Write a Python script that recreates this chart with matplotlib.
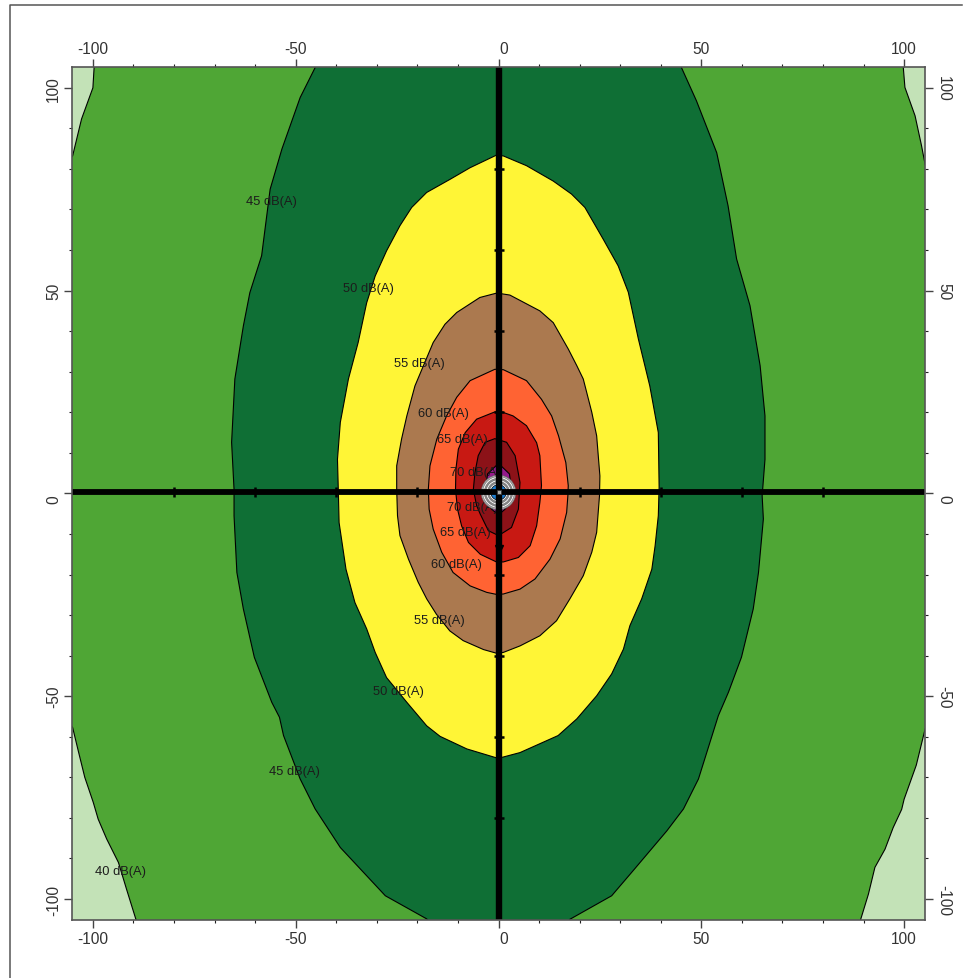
import matplotlib
matplotlib.use("Agg")
import matplotlib.pyplot as plt
from matplotlib.lines import Line2D
from matplotlib.patches import Circle
from matplotlib.transforms import ScaledTranslation

plt.rcParams['font.family'] = ['Liberation Sans', 'DejaVu Sans']
plt.rcParams['axes.unicode_minus'] = False

# contour lines, metres
corner_tl = [(-110, 110), (-99.7, 110), (-99.7, 105), (-100, 100), (-102.8, 92.3), (-103.6, 89), (-105, 83.2), (-110, 78)]
corner_tr = [(110, 110), (99.8, 110), (99.8, 105), (100.2, 100.1), (102.7, 93.1), (104.3, 85.7), (105.2, 81), (110, 75)]
corner_bl = [(-110, -50), (-105, -57.7), (-103.6, -63.5), (-102, -70), (-99.9, -76.2), (-98.7, -80.3), (-96.6, -85.2),
             (-93.7, -91), (-91.7, -97.6), (-89.4, -105), (-88, -110), (-110, -110)]
corner_br = [(110, -50), (105.2, -58), (103, -67), (100, -75.4), (99.4, -77.9), (97.3, -82.4), (95.3, -87.7), (92.8, -92.2),
             (91.2, -98.8), (89.3, -105), (88, -110), (110, -110)]

level_45 = [(-44, 110), (-45.2, 105), (-48.9, 97.6), (-53.4, 84.9), (-56.3, 75), (-58.4, 58.6), (-61.3, 49.5), (-62.9, 41.3),
            (-65, 28.2), (-65.8, 12.6), (-65.2, 1), (-65.2, -5.5), (-64.5, -19.5), (-62.9, -28.5), (-60.2, -40.4),
            (-55.9, -51.5), (-54, -55.2), (-53, -59.7), (-48.9, -70.4), (-45.2, -77.8), (-39, -87.3), (-27.9, -99.2),
            (-17.7, -104.9), (-14, -110), (14, -110), (17.6, -105), (27.9, -99.2), (33.2, -93), (41.5, -83.2), (45.6, -77.8),
            (49.3, -70.4), (52.5, -60.2), (54.2, -54.8), (56.7, -49), (59.9, -40.4), (62.8, -28.5), (64.1, -19.5),
            (65.3, -6.3), (65, -0.6), (65.7, 8.4), (65.7, 19.1), (64.5, 31.5), (62, 46.3), (58.7, 57.8), (56.6, 70.9),
            (53.8, 84), (48.8, 96.8), (45.1, 105), (44, 110)]
level_50 = [(-0.5, 83.4), (-7, 80.3), (-12, 77.4), (-17.7, 74.2), (-21.4, 70.5), (-24.3, 66), (-27.6, 59.8), (-30.4, 53.6),
            (-32.5, 47), (-34.6, 37.2), (-37, 28.2), (-39, 17.5), (-39.7, 8.4), (-39.5, 1), (-39.3, -7.2), (-37.6, -18.7),
            (-35.4, -26.9), (-32.5, -33.4), (-30.4, -39.2), (-27.6, -45.4), (-22.6, -51.5), (-17.7, -57.3), (-14.4, -59.9),
            (-7.8, -63), (-0.5, -65.2), (0.4, -65.2), (5.3, -63.9), (14.7, -59.7), (19.3, -55.6), (24.2, -49.9), (27.9, -44.5),
            (30.8, -38.4), (32.4, -32.6), (35.3, -26), (37.8, -18.7), (38.6, -13), (39.4, -5.5), (39.6, 1.5), (39.4, 15),
            (37.3, 26.5), (34.5, 38), (32, 49.6), (29.5, 56.1), (25.8, 62.7), (21.3, 70.5), (18, 73.8), (13.5, 77),
            (6.9, 80.8), (1.2, 83.2)]
level_55 = [(-0.4, 49.4), (-4.6, 48.3), (-10.3, 44.6), (-13.2, 41.7), (-16.1, 37.2), (-18.5, 31.5), (-20.6, 26.5), (-22.6, 19.1),
            (-23.9, 13.4), (-25.1, 6.8), (-25.1, 1), (-24.9, -5.5), (-24.3, -10.4), (-22.2, -16.2), (-19.8, -21.9), (-17.7, -26),
            (-15.3, -29.8), (-12, -33.9), (-8.7, -36.3), (-3.7, -38.5), (-0.5, -39.4), (1.2, -39.2), (5.3, -37.6), (10.2, -35.1),
            (14.3, -31.4), (17.6, -26), (20.9, -20.3), (23, -14.5), (24.2, -9.6), (24.9, -0.6), (25, 4.3), (24.2, 14.2), (23, 20),
            (20.9, 28.2), (19.3, 31.5), (17.2, 35.6), (13.5, 42.1), (10.2, 45), (2.8, 48.9)]
level_60 = [(-0.9, 30.6), (-7, 27.8), (-10.3, 23.7), (-12.8, 19.1), (-15.2, 13.4), (-16.9, 6.8), (-17.3, 1), (-17.1, -3.9),
            (-16.1, -8.8), (-14, -14.5), (-11.2, -19.5), (-7, -22.8), (-2.9, -24.4), (-0.5, -24.9), (1.2, -24.8), (5.3, -23.6),
            (9, -21.1), (12.7, -16.2), (15.2, -11.2), (16.8, -4.7), (17.1, -0.6), (17.2, 1.9), (16.6, 7.6), (14.8, 14.2),
            (13.1, 19.1), (10.6, 23.2), (6.9, 27.8), (1.2, 30.5)]
level_65 = [(-0.9, 20.1), (-5.4, 18.3), (-8.2, 15), (-9.9, 10.9), (-10.5, 6), (-10.6, 1), (-10.1, -3.9), (-9.1, -8), (-7.4, -12.1),
            (-4.5, -15), (-0.5, -16.9), (1.2, -16.9), (4.9, -15.8), (7.8, -12.9), (9.4, -8), (10.2, -2.2), (10.6, 1.9), (10.2, 9.3),
            (9.4, 12.5), (6.9, 16.7), (3.6, 19.1), (0.8, 20.1)]
level_70 = [(-0.9, 13.5), (-3.3, 12.6), (-5, 9.3), (-5.8, 5.2), (-6.2, 1), (-5.4, -3), (-4.5, -5.1), (-2.5, -9.2), (0, -10.4),
            (3.2, -8.4), (4.9, -3.9), (5.3, 2.7), (4.1, 9.3), (2, 12.6)]
level_75 = [(0, 7.4), (-2.7, 4.8), (-3.2, 1), (-2.8, -2), (-1.7, -3.9), (0, -5.3), (1.6, -3.9), (2.8, -2), (3.2, 1), (2.7, 4.8)]

contours = [level_45, level_50, level_55, level_60, level_65, level_70, level_75]
corners = [corner_tl, corner_tr, corner_bl, corner_br]
level_colors = ['#0f6f35', '#fff536', '#ab794f', '#ff6333', '#c81913', '#8c1218', '#951a8c']

label_text = ['45 dB(A)', '50 dB(A)', '55 dB(A)', '60 dB(A)', '65 dB(A)', '70 dB(A)',
              '70 dB(A)', '65 dB(A)', '60 dB(A)', '55 dB(A)', '50 dB(A)', '45 dB(A)', '40 dB(A)']
label_x = [-56, -32, -19.5, -13.6, -8.9, -5.7, -6.4, -8.1, -10.4, -14.5, -24.7, -50.3, -93.2]
label_y = [72.2, 50.6, 32.1, 19.7, 13.3, 5.2, -3.4, -9.6, -17.3, -31.3, -48.8, -68.5, -93.2]

road_marks = [-80, -60, -40, -20, 20, 40, 60, 80]
ring_radii = [4.3, 3.9, 3.5, 3.1, 2.7, 2.3]
ring_colors = ['#a8a8a8', '#f4f4f4', '#8a8a8a', '#f4f4f4', '#8a8a8a', '#f4f4f4']
major_ticks = [-100, -50, 0, 50, 100]
minor_ticks = list(range(-100, 101, 10))

fig = plt.figure(figsize=(9.71, 9.79), dpi=100)
ax = fig.add_axes([72 / 971, 1 - 920.7 / 979, 853 / 971, 853 / 979])
ax.set_facecolor('#4fa635')

for c in corners:
    ax.fill([p[0] for p in c], [p[1] for p in c], facecolor='#c3e2b7', edgecolor='black', lw=0.8, zorder=1)
for i in range(len(contours)):
    c = contours[i]
    ax.fill([p[0] for p in c], [p[1] for p in c], facecolor=level_colors[i], edgecolor='black', lw=0.8, zorder=2 + i * 0.1)

for i in range(len(label_text)):
    ax.text(label_x[i], label_y[i], label_text[i], fontsize=9.3, color='#1c1c1c', ha='center', va='center', zorder=3)

# receiver rings in the middle
for i in range(len(ring_radii)):
    ax.add_patch(Circle((0, 0.25), ring_radii[i], facecolor=ring_colors[i], edgecolor='#555555', lw=0.3, zorder=4))
ax.add_patch(Circle((0, 0.25), 1.9, facecolor='#1f7fd0', edgecolor='black', lw=0.5, zorder=4))

# the two roads
ax.plot([-110, 110], [0.25, 0.25], color='black', lw=4.2, solid_capstyle='butt', zorder=5)
ax.plot([0, 0], [-110, 110], color='black', lw=4.6, solid_capstyle='butt', zorder=5)
ax.plot(road_marks, [0.25] * len(road_marks), ls='none', marker='|', ms=6.5, mew=1.8, color='black', zorder=5)
ax.plot([0] * len(road_marks), road_marks, ls='none', marker='_', ms=7, mew=1.8, color='black', zorder=5)
ax.plot([0], [-13.7], ls='none', marker='v', ms=5.5, color='black', zorder=5)
ax.plot([0], [0.25], ls='none', marker='s', ms=3, mfc='#b0b0b0', mec='#333333', mew=0.5, zorder=6)

ax.set_xlim(-105.15, 105.15)
ax.set_ylim(-105.1, 105.2)
ax.set_xticks(major_ticks)
ax.set_yticks(major_ticks)
ax.set_xticks(minor_ticks, minor=True)
ax.set_yticks(minor_ticks, minor=True)
ax.tick_params(which='both', top=True, right=True, labeltop=True, labelright=True, direction='out')
ax.tick_params(which='major', length=5.5, width=1, color='#444444', labelsize=11.2, labelcolor='#333333', pad=2.5)
ax.tick_params(which='minor', length=2.5, width=0.8, color='#222222')
for s in ax.spines.values():
    s.set_color('#555555')
    s.set_linewidth(1.2)
    s.set_zorder(8)

fig.canvas.draw()
shift_x = ScaledTranslation(5 / 100, 0, fig.dpi_scale_trans)
shift_y = ScaledTranslation(0, -5 / 100, fig.dpi_scale_trans)
for t in ax.xaxis.get_major_ticks():
    if t.get_loc() == 0:
        t.label1.set_transform(t.label1.get_transform() + shift_x)
        t.label2.set_transform(t.label2.get_transform() + shift_x)
for t in ax.yaxis.get_major_ticks():
    t.label1.set_rotation(90)
    t.label1.set_va('center')
    t.label2.set_rotation(270)
    t.label2.set_va('center')
    if t.get_loc() == 0:
        t.label1.set_transform(t.label1.get_transform() + shift_y)
        t.label2.set_transform(t.label2.get_transform() + shift_y)

# outer picture frame, only left and top show
fig.add_artist(Line2D([9.5 / 971, 9.5 / 971, 962 / 971], [0, 1 - 5.5 / 979, 1 - 5.5 / 979], color='#555555', lw=1.1))

fig.savefig('out.png', dpi=100)
